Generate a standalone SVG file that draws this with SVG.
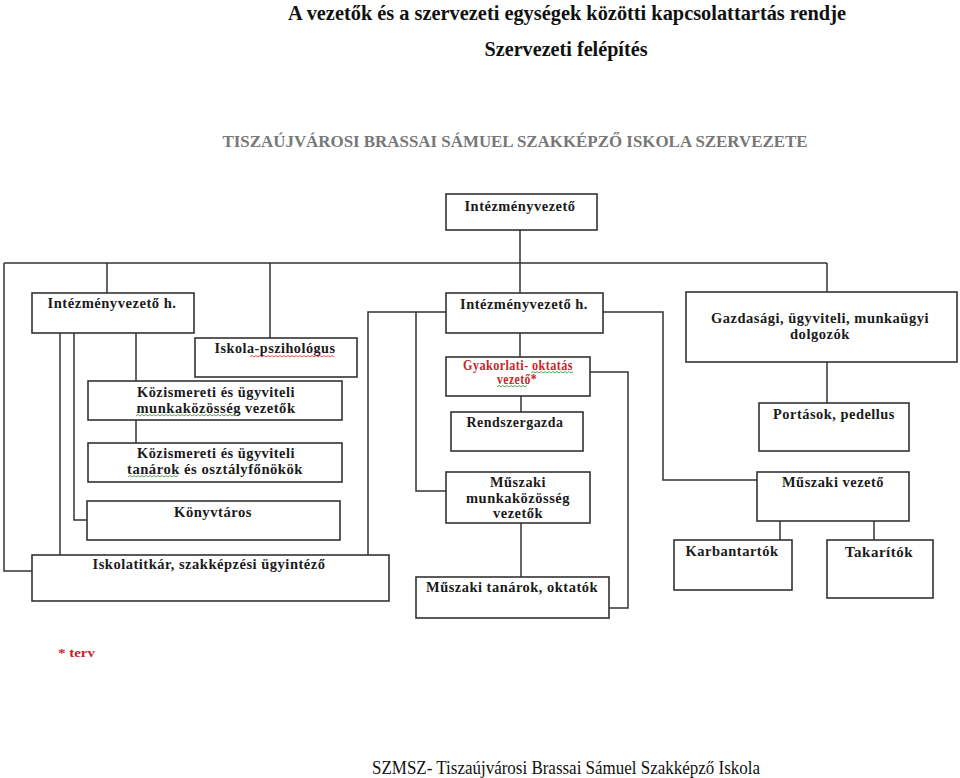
<svg xmlns="http://www.w3.org/2000/svg" width="960" height="778" viewBox="0 0 960 778">
<style>
.bx{fill:#fff;stroke:#333;stroke-width:1.6}
.ln{fill:none;stroke:#333;stroke-width:1.5}
.t{font-family:"Liberation Serif","Times New Roman",serif;font-weight:bold;font-size:14px;fill:#1a1a1a;text-anchor:middle;letter-spacing:0.5px}
.h{font-family:"Liberation Serif","Times New Roman",serif;font-weight:bold;fill:#111;text-anchor:middle}
.sq{fill:none;stroke-width:0.9}
</style>
<rect width="960" height="778" fill="#fff"/>
<text class="h" x="567" y="20" font-size="21" textLength="558" lengthAdjust="spacingAndGlyphs">A vezetők és a szervezeti egységek közötti kapcsolattartás rendje</text>
<text class="h" x="566" y="56" font-size="21" textLength="163" lengthAdjust="spacingAndGlyphs">Szervezeti felépítés</text>
<text class="h" x="515" y="147" font-size="16" style="fill:#777" textLength="585" lengthAdjust="spacingAndGlyphs">TISZAÚJVÁROSI  BRASSAI  SÁMUEL  SZAKKÉPZŐ  ISKOLA  SZERVEZETE</text>

<g id="connectors">
<path class="ln" d="M520,230V263"/>
<path class="ln" d="M4,263H827"/>
<path class="ln" d="M107,263V293"/>
<path class="ln" d="M270,263V338"/>
<path class="ln" d="M520,263V293"/>
<path class="ln" d="M827,263V292"/>
<path class="ln" d="M4,263V571H32"/>
<path class="ln" d="M60,333V555"/>
<path class="ln" d="M74,333V520H87"/>
<path class="ln" d="M136,333V381"/>
<path class="ln" d="M136,420V443"/>
<path class="ln" d="M446,312H368V555"/>
<path class="ln" d="M416,312V491H446"/>
<path class="ln" d="M603,312H663V480H757"/>
<path class="ln" d="M520,333V357"/>
<path class="ln" d="M590,372H628V608H609"/>
<path class="ln" d="M521,396V412"/>
<path class="ln" d="M521,523V577"/>
<path class="ln" d="M827,362V403"/>
<path class="ln" d="M780,521V540"/>
<path class="ln" d="M874,521V540"/>
</g>

<g id="n-intezmenyvezeto"><rect class="bx" x="446" y="194" width="151" height="36"/><text class="t" x="520" y="211" textLength="111" lengthAdjust="spacingAndGlyphs">Intézményvezető</text></g>
<g id="n-ivh-left"><rect class="bx" x="32" y="293" width="162" height="40"/><text class="t" x="112" y="308" textLength="129" lengthAdjust="spacingAndGlyphs">Intézményvezető h.</text></g>
<g id="n-pszichologus"><rect class="bx" x="195" y="338" width="162" height="39"/><text class="t" x="275" y="353" textLength="121" lengthAdjust="spacingAndGlyphs">Iskola-pszihológus</text></g>
<g id="n-kozism-mkv"><rect class="bx" x="88" y="381" width="254" height="39"/><text class="t" x="216" y="397" textLength="158" lengthAdjust="spacingAndGlyphs">Közismereti és ügyviteli</text><text class="t" x="216" y="413" textLength="159" lengthAdjust="spacingAndGlyphs">munkaközösség vezetők</text></g>
<g id="n-kozism-tanarok"><rect class="bx" x="88" y="443" width="254" height="39"/><text class="t" x="216" y="458" textLength="158" lengthAdjust="spacingAndGlyphs">Közismereti és ügyviteli</text><text class="t" x="215" y="474" textLength="176" lengthAdjust="spacingAndGlyphs">tanárok és osztályfőnökök</text></g>
<g id="n-konyvtaros"><rect class="bx" x="87" y="501" width="253" height="39"/><text class="t" x="213" y="517" textLength="78" lengthAdjust="spacingAndGlyphs">Könyvtáros</text></g>
<g id="n-iskolatitkar"><rect class="bx" x="32" y="555" width="357" height="46"/><text class="t" x="209" y="569" textLength="233" lengthAdjust="spacingAndGlyphs">Iskolatitkár, szakképzési ügyintéző</text></g>
<g id="n-ivh-mid"><rect class="bx" x="446" y="293" width="157" height="40"/><text class="t" x="524" y="309" textLength="128" lengthAdjust="spacingAndGlyphs">Intézményvezető h.</text></g>
<g id="n-gyakorlati"><rect class="bx" x="446" y="357" width="144" height="39"/><text class="t" x="518" y="370" font-size="11" style="fill:#c8252a" textLength="110" lengthAdjust="spacingAndGlyphs">Gyakorlati- oktatás</text><text class="t" x="517" y="384" font-size="11" style="fill:#c8252a" textLength="40" lengthAdjust="spacingAndGlyphs">vezető*</text></g>
<g id="n-rendszergazda"><rect class="bx" x="451" y="412" width="132" height="39"/><text class="t" x="515" y="427" textLength="97" lengthAdjust="spacingAndGlyphs">Rendszergazda</text></g>
<g id="n-muszaki-mkv"><rect class="bx" x="446" y="472" width="144" height="51"/><text class="t" x="518" y="487" textLength="56" lengthAdjust="spacingAndGlyphs">Műszaki</text><text class="t" x="518" y="503" textLength="104" lengthAdjust="spacingAndGlyphs">munkaközösség</text><text class="t" x="518" y="518" textLength="50" lengthAdjust="spacingAndGlyphs">vezetők</text></g>
<g id="n-muszaki-tanarok"><rect class="bx" x="416" y="577" width="193" height="41"/><text class="t" x="512" y="592" textLength="172" lengthAdjust="spacingAndGlyphs">Műszaki tanárok, oktatók</text></g>
<g id="n-gazdasagi"><rect class="bx" x="686" y="292" width="271" height="70"/><text class="t" x="820" y="323" textLength="218" lengthAdjust="spacingAndGlyphs">Gazdasági, ügyviteli, munkaügyi</text><text class="t" x="820" y="339" textLength="60" lengthAdjust="spacingAndGlyphs">dolgozók</text></g>
<g id="n-portasok"><rect class="bx" x="759" y="403" width="150" height="48"/><text class="t" x="834" y="419" textLength="122" lengthAdjust="spacingAndGlyphs">Portások, pedellus</text></g>
<g id="n-muszaki-vezeto"><rect class="bx" x="757" y="472" width="152" height="49"/><text class="t" x="833" y="487" textLength="102" lengthAdjust="spacingAndGlyphs">Műszaki vezető</text></g>
<g id="n-karbantartok"><rect class="bx" x="674" y="540" width="118" height="50"/><text class="t" x="732" y="556" textLength="93" lengthAdjust="spacingAndGlyphs">Karbantartók</text></g>
<g id="n-takaritok"><rect class="bx" x="827" y="540" width="106" height="58"/><text class="t" x="879" y="557" textLength="68" lengthAdjust="spacingAndGlyphs">Takarítók</text></g>

<g id="spellcheck">
<path class="sq" stroke="#e04040" d="M250,357l2,-1.5l2,1.5l2,-1.5l2,1.5l2,-1.5l2,1.5l2,-1.5l2,1.5l2,-1.5l2,1.5l2,-1.5l2,1.5l2,-1.5l2,1.5l2,-1.5l2,1.5l2,-1.5l2,1.5l2,-1.5l2,1.5l2,-1.5l2,1.5l2,-1.5l2,1.5l2,-1.5l2,1.5l2,-1.5l2,1.5l2,-1.5l2,1.5l2,-1.5l2,1.5l2,-1.5l2,1.5l2,-1.5l2,1.5l2,-1.5l2,1.5l2,-1.5l2,1.5l2,-1.5l2,1.5"/>
<path class="sq" stroke="#4a9a4a" d="M136,416l2,-1.5l2,1.5l2,-1.5l2,1.5l2,-1.5l2,1.5l2,-1.5l2,1.5l2,-1.5l2,1.5l2,-1.5l2,1.5l2,-1.5l2,1.5l2,-1.5l2,1.5l2,-1.5l2,1.5l2,-1.5l2,1.5l2,-1.5l2,1.5l2,-1.5l2,1.5l2,-1.5l2,1.5l2,-1.5l2,1.5l2,-1.5l2,1.5l2,-1.5l2,1.5l2,-1.5l2,1.5l2,-1.5l2,1.5l2,-1.5l2,1.5l2,-1.5l2,1.5l2,-1.5l2,1.5l2,-1.5l2,1.5l2,-1.5l2,1.5l2,-1.5l2,1.5l2,-1.5l2,1.5l2,-1.5"/>
<path class="sq" stroke="#4a9a4a" d="M128,477l2,-1.5l2,1.5l2,-1.5l2,1.5l2,-1.5l2,1.5l2,-1.5l2,1.5l2,-1.5l2,1.5l2,-1.5l2,1.5l2,-1.5l2,1.5l2,-1.5l2,1.5l2,-1.5l2,1.5l2,-1.5l2,1.5l2,-1.5l2,1.5l2,-1.5l2,1.5l2,-1.5"/>
<path class="sq" stroke="#4a9a4a" d="M531,373l2,-1.5l2,1.5l2,-1.5l2,1.5l2,-1.5l2,1.5l2,-1.5l2,1.5l2,-1.5l2,1.5l2,-1.5l2,1.5l2,-1.5l2,1.5l2,-1.5l2,1.5l2,-1.5l2,1.5l2,-1.5l2,1.5l2,-1.5"/>
<path class="sq" stroke="#4a9a4a" d="M497,387l2,-1.5l2,1.5l2,-1.5l2,1.5l2,-1.5l2,1.5l2,-1.5l2,1.5l2,-1.5l2,1.5l2,-1.5l2,1.5l2,-1.5l2,1.5l2,-1.5"/>
</g>

<text x="58" y="657" font-family="Liberation Serif,serif" font-weight="bold" font-size="12" fill="#c8252a" textLength="37" lengthAdjust="spacingAndGlyphs">* terv</text>
<text x="566" y="774" font-family="Liberation Serif,serif" font-size="18" fill="#111" text-anchor="middle" textLength="388" lengthAdjust="spacingAndGlyphs">SZMSZ- Tiszaújvárosi Brassai Sámuel Szakképző Iskola</text>
</svg>
